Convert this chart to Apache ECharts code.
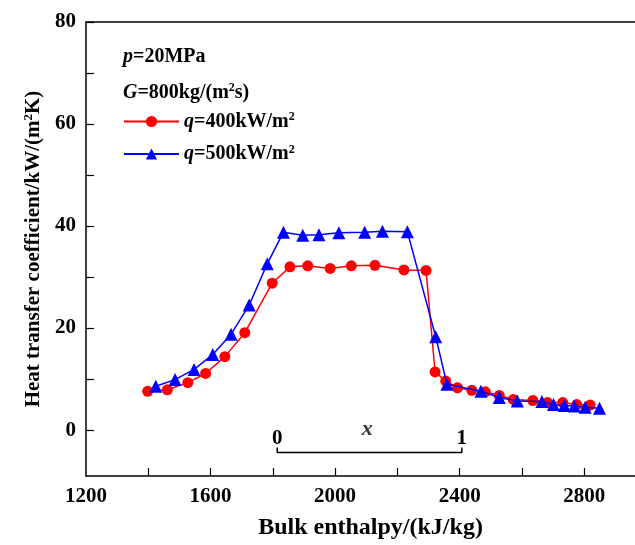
<!DOCTYPE html>
<html><head><meta charset="utf-8">
<script src="https://cdn.jsdelivr.net/npm/echarts@6/dist/echarts.min.js"></script>
<style>html,body{margin:0;padding:0;background:#fff}#c{width:635px;height:545px}</style>
</head><body><div id="c"></div>
<script>
var enthalpyRed = [1398,1461,1527,1584,1646,1710,1798,1855,1912,1984,2052,2128,2221,2292,2321,2355,2393,2439,2482,2527,2572,2635,2682,2731,2776,2819];
var htcRed      = [7.6,7.9,9.3,11.1,14.4,19.1,28.8,32.0,32.2,31.7,32.2,32.3,31.4,31.3,11.4,9.6,8.3,7.8,7.5,6.8,6.0,5.8,5.4,5.4,5.0,4.9];
var enthalpyBlue = [1424,1486,1547,1607,1666,1724,1782,1834,1896,1948,2012,2095,2152,2232,2323,2359,2468,2527,2585,2664,2701,2736,2768,2803,2849];
var htcBlue      = [8.6,9.9,11.9,14.8,18.8,24.5,32.6,38.8,38.2,38.3,38.7,38.8,39.0,38.9,18.3,9.0,7.6,6.4,5.7,5.6,5.0,4.8,4.7,4.5,4.3];
var bracketX = [1814,1814,2407,2407];
var bracketY = [-3.4,-4.4,-4.4,-3.4];
var bracketLabels = ['0','','','1'];
var xLabelPos = [2103,0.1];
var seriesNames = ['q=400kW/m2','q=500kW/m2'];
var xTickLabels = [1200,1600,2000,2400,2800];
var xTickMarks = [1400,1600,1800,2000,2200,2400,2600,2800];
var yTickLabels = [0,20,40,60,80];
var yTickMarks = [0,10,20,30,40,50,60,70,80];

var FONT = 'Liberation Serif';
function mkRich(s){return {
  i:{fontFamily:FONT,fontWeight:'bold',fontStyle:'italic',fontSize:s,color:'#000'},
  t:{fontFamily:FONT,fontWeight:'bold',fontSize:s,color:'#000'},
  sup:{fontFamily:FONT,fontWeight:'bold',fontSize:Math.round(s*0.6),color:'#000',padding:[0,0,Math.round(s*0.45),0]}
};}
var rich = mkRich(20);
function zip(a,b){return a.map(function(v,i){return [v,b[i]];});}
function plain(v){return String(v);}

var chart = echarts.init(document.getElementById('c'));
var axisLineStyle = {color:'#000',width:1.5};
chart.setOption({
  animation:false,
  backgroundColor:'#fff',
  grid:{left:86,top:22,right:0,bottom:69},
  xAxis:[{
    type:'value',min:1200,max:2963,
    axisLine:{show:true,onZero:false,lineStyle:axisLineStyle},
    axisTick:{show:true,inside:true,length:8,customValues:xTickMarks,lineStyle:{color:'#000',width:1.2}},
    splitLine:{show:false},
    axisLabel:{margin:10,customValues:xTickLabels,formatter:plain,fontFamily:FONT,fontWeight:'bold',fontSize:21,color:'#000'},
    name:'Bulk enthalpy/(kJ/kg)',nameLocation:'middle',nameGap:40,
    nameTextStyle:{fontFamily:FONT,fontWeight:'bold',fontSize:24,color:'#000',padding:[0,0,0,20]}
  },{
    type:'value',position:'top',min:1200,max:2963,
    axisLine:{show:true,onZero:false,lineStyle:axisLineStyle},axisTick:{show:false},axisLabel:{show:false},splitLine:{show:false}
  }],
  yAxis:[{
    type:'value',min:-9,max:80,
    axisLine:{show:true,onZero:false,lineStyle:axisLineStyle},
    axisTick:{show:true,inside:true,length:8,customValues:yTickMarks,lineStyle:{color:'#000',width:1.2}},
    splitLine:{show:false},
    axisLabel:{margin:10,customValues:yTickLabels,formatter:plain,fontFamily:FONT,fontWeight:'bold',fontSize:21,color:'#000'},
    name:'{t|Heat transfer coefficient/kW/(m}{sup|2}{t|K)}',nameLocation:'middle',nameRotate:90,nameGap:38,
    nameTextStyle:{rich:mkRich(21),fontFamily:FONT,fontWeight:'bold',fontSize:21,color:'#000'}
  }],
  legend:{
    data:seriesNames,orient:'vertical',left:123,top:111,padding:0,itemWidth:55,itemHeight:14,itemGap:12,
    textStyle:{rich:rich,fontFamily:FONT,fontWeight:'bold',fontSize:20,color:'#000'},
    formatter:function(n){var num=n.replace('q=','').replace('kW/m2','');return '{i|q}{t|='+num+'kW/m}{sup|2}';}
  },
  graphic:[
    {type:'text',left:123,top:47,style:{text:'{i|p}{t|=20MPa}',rich:rich}},
    {type:'text',left:123,top:82,style:{text:'{i|G}{t|=800kg/(m}{sup|2}{t|s)}',rich:rich}}
  ],
  series:[
    {name:seriesNames[0],type:'line',data:zip(enthalpyRed,htcRed),symbol:'circle',symbolSize:11,
     lineStyle:{color:'#ff0000',width:1.5},itemStyle:{color:'#ff0000'},z:3},
    {name:seriesNames[1],type:'line',data:zip(enthalpyBlue,htcBlue),symbol:'triangle',symbolSize:13,
     lineStyle:{color:'#0000ff',width:1.5},itemStyle:{color:'#0000ff'},z:4},
    {name:'bracket',type:'line',data:zip(bracketX,bracketY),symbol:'circle',symbolSize:0.01,showSymbol:true,
     lineStyle:{color:'#000',width:1.5},itemStyle:{color:'#000'},silent:true,
     label:{show:true,position:'top',distance:2,offset:[0,4],fontFamily:FONT,fontWeight:'bold',fontSize:21,color:'#000',
       formatter:function(p){return bracketLabels[p.dataIndex];}}},
    {name:'xlab',type:'scatter',data:[xLabelPos],symbolSize:1,itemStyle:{color:'rgba(0,0,0,0)'},silent:true,
     label:{show:true,position:'inside',formatter:'x',fontFamily:FONT,fontWeight:'bold',fontStyle:'italic',fontSize:22,color:'#000'}}
  ]
});
</script></body></html>
